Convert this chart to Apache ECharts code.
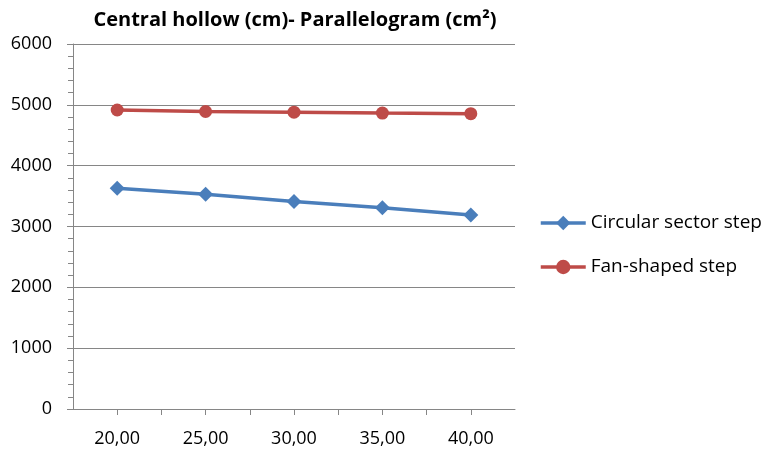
<!DOCTYPE html>
<html>
<head>
<meta charset="utf-8">
<script src="https://cdn.jsdelivr.net/npm/echarts@6/dist/echarts.min.js"></script>
<style>
  html, body { margin: 0; padding: 0; background: #fff; }
  #chart { width: 764px; height: 454px; }
</style>
</head>
<body>
<div id="chart"></div>
<script>
// Central hollow diameter (cm)
const hollow = [20, 25, 30, 35, 40];
// Parallelogram area (cm²) per step type
const circularSector = [3630, 3530, 3410, 3310, 3190];
const fanShaped = [4915, 4890, 4880, 4865, 4855];
const seriesNames = ['Circular sector step', 'Fan-shaped step'];
const yTicks = [0, 1000, 2000, 3000, 4000, 5000, 6000];

const FONT = '"Open Sans", "Noto Sans", sans-serif';
const GRAY = '#868686';

const chart = echarts.init(document.getElementById('chart'), null, { renderer: 'canvas' });

chart.setOption({
  animation: false,
  backgroundColor: '#fff',
  title: {
    text: 'Central hollow (cm)- Parallelogram (cm²)',
    left: 290,
    textAlign: 'center',
    top: 5,
    textStyle: { fontFamily: FONT, fontSize: 20, fontWeight: 'bold', color: '#000' }
  },
  legend: {
    orient: 'vertical',
    left: 534,
    top: 207,
    itemGap: 22,
    itemWidth: 45,
    itemHeight: 18,
    lineStyle: { width: 3.5 },
    textStyle: { fontFamily: FONT, fontSize: 19, lineHeight: 22, color: '#000' },
    data: seriesNames
  },
  grid: { left: 73, top: 44, right: 249, bottom: 45, containLabel: false },
  xAxis: {
    type: 'value',
    min: 17.5,
    max: 42.5,
    interval: 2.5,
    axisLine: { show: true, onZero: false, lineStyle: { color: GRAY, width: 1 } },
    axisTick: { show: true, length: 6, lineStyle: { color: GRAY } },
    splitLine: { show: false },
    axisLabel: {
      fontFamily: FONT, fontSize: 18, color: '#000', margin: 21,
      showMinLabel: false, showMaxLabel: false,
      formatter: v => (v % 5 === 0 && v >= 20 && v <= 40) ? v.toFixed(2).replace('.', ',') : ''
    }
  },
  yAxis: {
    type: 'value',
    min: yTicks[0],
    max: yTicks[yTicks.length - 1],
    interval: 1000,
    axisLine: { show: true, lineStyle: { color: GRAY, width: 1 } },
    axisTick: { show: true, length: 6, lineStyle: { color: GRAY } },
    minorTick: { show: true, splitNumber: 5, length: 5, lineStyle: { color: GRAY } },
    splitLine: { show: true, lineStyle: { color: GRAY, width: 1 } },
    axisLabel: { fontFamily: FONT, fontSize: 18, color: '#000', margin: 21, formatter: v => String(v) }
  },
  series: [
    {
      name: seriesNames[0],
      type: 'line',
      data: hollow.map((x, i) => [x, circularSector[i]]),
      symbol: 'diamond',
      symbolSize: 15,
      color: '#4a7ebb',
      lineStyle: { width: 3.5, color: '#4a7ebb' },
      itemStyle: { color: '#4a7ebb' }
    },
    {
      name: seriesNames[1],
      type: 'line',
      data: hollow.map((x, i) => [x, fanShaped[i]]),
      symbol: 'circle',
      symbolSize: 13,
      color: '#be4b48',
      lineStyle: { width: 3.5, color: '#be4b48' },
      itemStyle: { color: '#be4b48' }
    }
  ]
});
</script>
</body>
</html>
